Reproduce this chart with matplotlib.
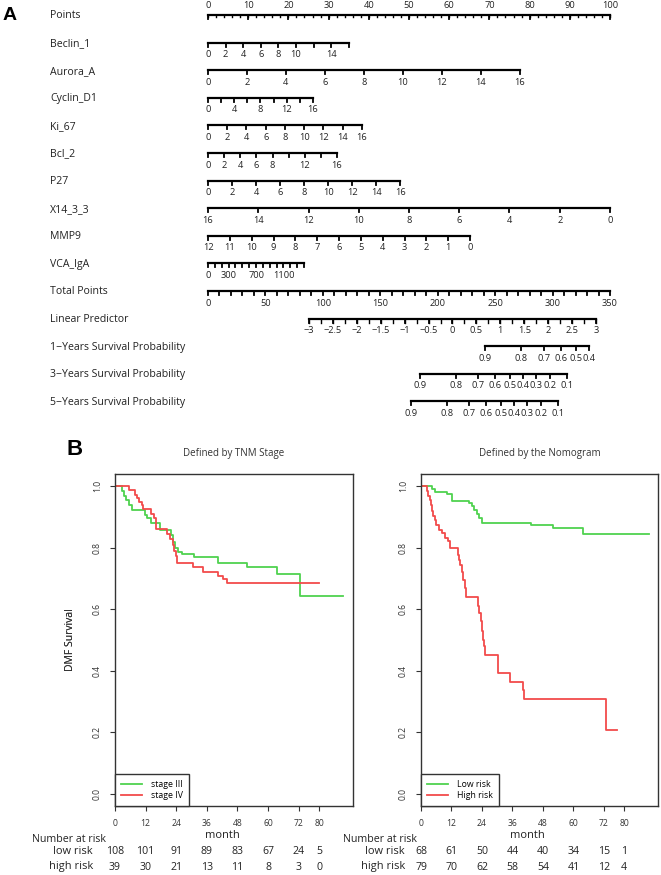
import numpy as np
import matplotlib
matplotlib.use('Agg')
import matplotlib.pyplot as plt
from matplotlib.lines import Line2D

plt.rcParams['font.family'] = ['Open Sans', 'DejaVu Sans']

# ======================= DATA: nomogram =======================
points_ticks = list(range(0, 101, 10))
points_minor = list(range(0, 101, 2))

var_names = ['Beclin_1', 'Aurora_A', 'Cyclin_D1', 'Ki_67', 'Bcl_2', 'P27',
             'X14_3_3', 'MMP9', 'VCA_IgA']
var_zero_value = [0, 0, 0, 0, 0, 0, 16, 12, 0]          # value scoring 0 points
var_end_value = [16, 16, 16, 16, 16, 16, 0, 0, 1400]     # value at the far end
var_end_points = [35.0, 77.6, 26.1, 38.3, 32.1, 47.8, 100.0, 65.2, 23.9]
var_tick_step = [2, 2, 2, 2, 2, 2, 2, 1, 100]
var_tick_labels = [
    [0, 2, 4, 6, 8, 10, 14],
    [0, 2, 4, 6, 8, 10, 12, 14, 16],
    [0, 4, 8, 12, 16],
    [0, 2, 4, 6, 8, 10, 12, 14, 16],
    [0, 2, 4, 6, 8, 12, 16],
    [0, 2, 4, 6, 8, 10, 12, 14, 16],
    [16, 14, 12, 10, 8, 6, 4, 2, 0],
    [12, 11, 10, 9, 8, 7, 6, 5, 4, 3, 2, 1, 0],
    [0, 300, 700, 1100],
]

total_points_max = 350
total_ticks = list(range(0, 351, 50))
total_minor = list(range(0, 351, 10))

lp_values = [-3, 3]
lp_total_points = [87.9, 337.8]
lp_ticks = [-3, -2.5, -2, -1.5, -1, -0.5, 0, 0.5, 1, 1.5, 2, 2.5, 3]
lp_minor = list(np.arange(-3, 3.01, 0.25))

surv_names = ['1\u2212Years Survival Probability',
              '3\u2212Years Survival Probability',
              '5\u2212Years Survival Probability']
surv_baseline = [0.9485, 0.8116, 0.7776]   # survival at linear predictor 0
surv_ticks = [
    [0.9, 0.8, 0.7, 0.6, 0.5, 0.4],
    [0.9, 0.8, 0.7, 0.6, 0.5, 0.4, 0.3, 0.2, 0.1],
    [0.9, 0.8, 0.7, 0.6, 0.5, 0.4, 0.3, 0.2, 0.1],
]

# ======================= DATA: Kaplan-Meier =======================
km_months = [0, 12, 24, 36, 48, 60, 72, 80]

tnm3_t = [0, 2.6, 3.5, 4.5, 5.5, 6.5, 11.8, 12.6, 14.3, 17.6, 21.8, 22.6, 23.5,
          24.8, 26.1, 30.8, 40.5, 51.9, 63.4, 72.5]
tnm3_s = [1.0, 0.985, 0.97, 0.955, 0.94, 0.924, 0.907, 0.8965, 0.882, 0.8585,
          0.84, 0.82, 0.80, 0.785, 0.779, 0.769, 0.752, 0.739, 0.715, 0.644]
tnm3_end = 89.4

tnm4_t = [0, 5.6, 7.8, 8.5, 9.5, 10.5, 11.1, 14.0, 15.3, 16.1, 20.3, 21.6, 22.6,
          23.1, 23.9, 24.4, 30.7, 34.6, 40.5, 42.5, 43.8]
tnm4_s = [1.0, 0.987, 0.973, 0.962, 0.948, 0.938, 0.927, 0.911, 0.8965, 0.862,
          0.846, 0.83, 0.808, 0.79, 0.773, 0.752, 0.739, 0.7225, 0.708, 0.6975,
          0.685]
tnm4_end = 80.1

low_t = [0, 4.3, 5.6, 10.2, 12.1, 18.7, 20.0, 20.9, 21.9, 22.9, 23.9, 43.5,
         52.0, 63.8]
low_s = [1.0, 0.99, 0.983, 0.9756, 0.953, 0.945, 0.935, 0.9236, 0.911, 0.897,
         0.882, 0.8737, 0.863, 0.8455]
low_end = 89.7

high_t = [0, 2.3, 2.9, 3.4, 4.0, 4.3, 4.9, 5.5, 6.0, 6.9, 8.2, 9.5, 10.8, 11.5,
          14.4, 14.8, 15.3, 16.1, 16.7, 17.2, 17.8, 22.6, 23.0, 23.6, 24.0,
          24.4, 24.8, 25.3, 30.4, 35.0, 40.2, 40.6, 72.7]
high_s = [1.0, 0.985, 0.97, 0.955, 0.94, 0.92, 0.905, 0.89, 0.874, 0.858,
          0.847, 0.833, 0.822, 0.798, 0.776, 0.76, 0.744, 0.722, 0.695, 0.668,
          0.639, 0.61, 0.587, 0.561, 0.53, 0.50, 0.479, 0.452, 0.3925, 0.365,
          0.338, 0.308, 0.206]
high_end = 77.1

risk_left_low = [108, 101, 91, 89, 83, 67, 24, 5]
risk_left_high = [39, 30, 21, 13, 11, 8, 3, 0]
risk_right_low = [68, 61, 50, 44, 40, 34, 15, 1]
risk_right_high = [79, 70, 62, 58, 54, 41, 12, 4]

GREEN = '#4fd24f'
RED = '#f24b4b'

# ======================= FIGURE =======================
W, H = 661, 875
fig = plt.figure(figsize=(W / 100, H / 100), dpi=100)

# ---------- Nomogram (panel A) ----------
X0_PX, X100_PX = 208, 610          # pixel location of 0 and 100 points
NOM_H = 425


def px2x(px):
    return (px - X0_PX) * 100.0 / (X100_PX - X0_PX)


axn = fig.add_axes([0, 1 - NOM_H / H, 1, NOM_H / H])
axn.set_xlim(px2x(0), px2x(W))
axn.set_ylim(NOM_H, 0)
axn.axis('off')

ROW0, ROWSTEP = 15, 27.6
TICK = 4.0
FS_TICK = 6.7
FS_LAB = 7.6


def fmt(v):
    s = f'{v:g}'
    return s.replace('-', '\u2212')


def draw_scale(y, tick_x, label_x, label_txt, minor_x=(), above=False,
               minor_len=TICK):
    allx = list(tick_x) + list(minor_x)
    axn.plot([min(allx), max(allx)], [y, y], color='black', lw=1.6,
             solid_capstyle='projecting')
    for x in minor_x:
        axn.plot([x, x], [y, y + minor_len], color='black', lw=1.0)
    for x in tick_x:
        axn.plot([x, x], [y, y + TICK], color='black', lw=1.3)
    for x, s in zip(label_x, label_txt):
        axn.text(x, y - 9.5 if above else y + 12, s, ha='center', va='center',
                 fontsize=FS_TICK, color='#222222')


rows = ['Points'] + var_names + ['Total Points', 'Linear Predictor'] + surv_names
row_y = {name: ROW0 + i * ROWSTEP for i, name in enumerate(rows)}

for name in rows:
    axn.text(px2x(50), row_y[name] + 1, name, ha='left', va='center',
             fontsize=FS_LAB, color='#222222')

# Points
draw_scale(row_y['Points'], points_ticks, points_ticks,
           [fmt(v) for v in points_ticks], minor_x=points_minor, above=True,
           minor_len=2.2)

# Predictor variables
for name, z, e, ep, st, labs in zip(var_names, var_zero_value, var_end_value,
                                    var_end_points, var_tick_step,
                                    var_tick_labels):
    def to_pts(v, z=z, e=e, ep=ep):
        return (v - z) / (e - z) * ep
    lo, hi = min(z, e), max(z, e)
    vals = np.arange(lo, hi + st * 0.5, st)
    draw_scale(row_y[name], [to_pts(v) for v in vals],
               [to_pts(v) for v in labs], [fmt(v) for v in labs])

# Total points
tp2x = lambda tp: tp * 100.0 / total_points_max
draw_scale(row_y['Total Points'], [tp2x(v) for v in total_minor],
           [tp2x(v) for v in total_ticks], [fmt(v) for v in total_ticks])


def lp2tp(lp):
    return lp_total_points[0] + (lp - lp_values[0]) * \
        (lp_total_points[1] - lp_total_points[0]) / (lp_values[1] - lp_values[0])


draw_scale(row_y['Linear Predictor'], [tp2x(lp2tp(v)) for v in lp_ticks],
           [tp2x(lp2tp(v)) for v in lp_ticks], [fmt(v) for v in lp_ticks],
           minor_x=[tp2x(lp2tp(v)) for v in lp_minor])

for name, s0, ticks in zip(surv_names, surv_baseline, surv_ticks):
    xs = [tp2x(lp2tp(np.log(-np.log(s)) - np.log(-np.log(s0)))) for s in ticks]
    draw_scale(row_y[name], xs, xs, [fmt(v) for v in ticks])

fig.text(3 / W, 1 - 15 / H, 'A', fontsize=14, fontweight='bold',
         family='Liberation Sans', ha='left', va='center')

# ---------- Kaplan-Meier (panel B) ----------
AX_TOP, AX_BOT = 474, 806
panels = [
    dict(left=115, right=353, title='Defined by TNM Stage',
         curves=[(tnm3_t, tnm3_s, tnm3_end, GREEN, 'stage III'),
                 (tnm4_t, tnm4_s, tnm4_end, RED, 'stage IV')],
         risk=(risk_left_low, risk_left_high), nar_x=32, rowlab_x=93),
    dict(left=421, right=658, title='Defined by the Nomogram',
         curves=[(low_t, low_s, low_end, GREEN, 'Low risk'),
                 (high_t, high_s, high_end, RED, 'High risk')],
         risk=(risk_right_low, risk_right_high), nar_x=343, rowlab_x=405),
]

for p in panels:
    ax = fig.add_axes([p['left'] / W, 1 - AX_BOT / H,
                       (p['right'] - p['left']) / W, (AX_BOT - AX_TOP) / H])
    handles = []
    for t, s, tend, col, lab in p['curves']:
        tt = list(t) + [tend]
        ss = list(s) + [s[-1]]
        ax.step(tt, ss, where='post', color=col, lw=1.3)
        handles.append(Line2D([], [], color=col, lw=1.3, label=lab))
    ax.set_xlim(0, 93.3)
    ax.set_ylim(-0.04, 1.04)
    ax.set_xticks(km_months)
    ax.set_yticks([0, 0.2, 0.4, 0.6, 0.8, 1.0])
    ax.set_yticklabels(['0.0', '0.2', '0.4', '0.6', '0.8', '1.0'],
                       rotation=90, va='center')
    ax.tick_params(direction='out', length=3.5, width=0.8, labelsize=6.2,
                   color='#333333', labelcolor='#333333')
    ax.tick_params(axis='y', pad=6)
    ax.tick_params(axis='x', pad=6)
    for sp in ax.spines.values():
        sp.set_color('#333333')
        sp.set_linewidth(1.0)
    ax.set_ylabel('DMF Survival', fontsize=7.5, color='#333333')
    ax.yaxis.set_label_coords((76 - p['left']) / (p['right'] - p['left']), 0.5)
    ax.text(0.5, 1 + (AX_TOP - 453) / (AX_BOT - AX_TOP), p['title'],
            transform=ax.transAxes, ha='center', va='center', fontsize=7,
            color='#333333')
    leg = ax.legend(handles=handles, loc='lower left', bbox_to_anchor=(0, 0),
                    borderaxespad=0, fancybox=False, edgecolor='#333333',
                    fontsize=6.3, handlelength=2.4, handletextpad=1.0,
                    borderpad=0.7, labelspacing=0.25, framealpha=1)
    leg.get_frame().set_linewidth(1.0)

    # month label
    ax.annotate('month', xy=(42, H - 836), xycoords=('data', 'figure pixels'),
                ha='center', va='center', fontsize=8.0, color='#222222',
                annotation_clip=False)
    fig.text(p['nar_x'] / W, 1 - 839 / H, 'Number at risk', ha='left',
             va='center', fontsize=7.7, color='#222222')
    low, high = p['risk']
    for lab, vals, yy in (('low risk', low, 852), ('high risk', high, 867)):
        fig.text(p['rowlab_x'] / W, 1 - yy / H, lab, ha='right', va='center',
                 fontsize=7.9, color='#222222')
        for m, n in zip(km_months, vals):
            ax.annotate(str(n), xy=(m, H - yy),
                        xycoords=('data', 'figure pixels'), ha='center',
                        va='center', fontsize=7.6, color='#222222',
                        annotation_clip=False)

fig.text(75 / W, 1 - 450 / H, 'B', fontsize=16, fontweight='bold',
         family='Liberation Sans', ha='center', va='center')

fig.savefig('out.png', dpi=100, facecolor='white')
